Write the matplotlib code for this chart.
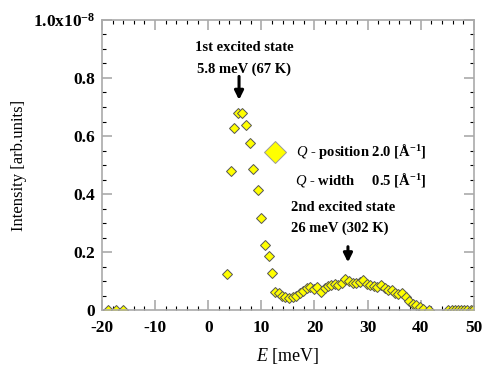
import matplotlib
matplotlib.use("Agg")
import matplotlib.pyplot as plt
from matplotlib.ticker import MultipleLocator

plt.rcParams['font.family'] = ['Liberation Serif', 'DejaVu Serif']
plt.rcParams['mathtext.fontset'] = 'custom'
plt.rcParams['mathtext.rm'] = 'Liberation Serif'
plt.rcParams['mathtext.it'] = 'Liberation Serif:italic'
plt.rcParams['mathtext.bf'] = 'Liberation Serif:bold'

# low energy points (sparse)
e_low = [-18.8, -17.4, -16.0]
i_low = [0.0, 0.0, 0.0]

# first excitation peak
e_peak = [3.45, 4.2, 4.9, 5.6, 6.4, 7.1, 7.85, 8.5, 9.3, 9.9, 10.7, 11.4, 12.05]
i_peak = [0.124, 0.479, 0.628, 0.678, 0.678, 0.639, 0.576, 0.486, 0.413,
          0.317, 0.224, 0.186, 0.128]

# broad second excitation
e_band = [12.6, 13.3, 13.9, 14.5, 15.2, 15.9, 16.5, 17.2, 17.9, 18.5, 19.2,
          19.9, 20.5, 21.2, 21.9, 22.5, 23.2, 23.9, 24.5, 25.2, 25.8, 26.5,
          27.2, 27.8, 28.5, 29.2, 29.8, 30.5, 31.2, 31.8, 32.5, 33.2, 33.8,
          34.5, 35.2, 35.8, 36.5, 37.2, 37.8, 38.5, 39.2, 39.8, 40.5, 41.5]
i_band = [0.063, 0.058, 0.050, 0.045, 0.040, 0.045, 0.050, 0.058, 0.065,
          0.075, 0.080, 0.072, 0.078, 0.063, 0.075, 0.082, 0.085, 0.090,
          0.085, 0.095, 0.108, 0.100, 0.092, 0.095, 0.098, 0.105, 0.090,
          0.085, 0.082, 0.080, 0.085, 0.075, 0.070, 0.068, 0.060, 0.055,
          0.058, 0.045, 0.030, 0.022, 0.018, 0.010, 0.005, 0.0]

# high energy tail
e_high = [45.2, 45.8, 46.4, 47.0, 47.6, 48.2, 48.8, 49.4, 49.9]
i_high = [0.0] * 9

fig = plt.figure(figsize=(4.87, 3.70), dpi=100)
ax = fig.add_axes([0.2094, 0.162, 0.7636, 0.784])

mk = dict(marker='D', markersize=5.5, markerfacecolor='#ffff00',
          markeredgecolor='#555555', markeredgewidth=0.7)
ax.plot(e_low, i_low, linestyle='none', **mk)
ax.plot(e_peak, i_peak, linestyle='none', **mk)
ax.plot(e_band, i_band, color='black', linewidth=0.8, **mk)
ax.plot(e_high, i_high, linestyle='none', **mk)

ax.set_xlim(-20, 50)
ax.set_ylim(0, 1.0)
ax.xaxis.set_major_locator(MultipleLocator(10))
ax.xaxis.set_minor_locator(MultipleLocator(2))
ax.yaxis.set_major_locator(MultipleLocator(0.2))
ax.yaxis.set_minor_locator(MultipleLocator(0.05))
ax.tick_params(which='both', direction='in', top=True, right=True)
ax.tick_params(which='major', length=7, width=1.2, color='#aaaaaa')
ax.tick_params(which='minor', length=3, width=0.8, color='black')
ax.tick_params(axis='x', which='major', pad=7)
ax.tick_params(axis='y', which='major', pad=5)
for sp in ax.spines.values():
    sp.set_color('#aaaaaa')
    sp.set_linewidth(1.2)

ax.set_xticks([-20, -10, 0, 10, 20, 30, 40, 50])
ax.set_xticklabels(['-20', '-10', '0', '10', '20', '30', '40', '50'],
                   fontsize=12.5, fontweight='bold')
ax.set_yticks([0, 0.2, 0.4, 0.6, 0.8, 1.0])
ax.set_yticklabels(['0', '0.2', '0.4', '0.6', '0.8', r'1.0x10$^{\mathbf{-8}}$'],
                   fontsize=12.5, fontweight='bold')

ax.set_xlabel(r'$E$ [meV]', fontsize=13, labelpad=7)
ax.set_ylabel('Intensity [arb.units]', fontsize=12, labelpad=4)

# first excited state
ax.text(6.8, 0.905, '1st excited state', ha='center', va='center',
        fontsize=10.5, fontweight='bold')
ax.text(6.8, 0.83, '5.8 meV (67 K)', ha='center', va='center',
        fontsize=10.5, fontweight='bold')
ax.annotate('', xy=(5.8, 0.715), xytext=(5.8, 0.815),
            arrowprops=dict(arrowstyle='-|>', color='black', lw=2.2,
                            mutation_scale=13))

# second excited state
ax.text(15.5, 0.355, '2nd excited state', ha='left', va='center',
        fontsize=10.5, fontweight='bold')
ax.text(15.5, 0.283, '26 meV (302 K)', ha='left', va='center',
        fontsize=10.5, fontweight='bold')
ax.annotate('', xy=(26.3, 0.155), xytext=(26.3, 0.228),
            arrowprops=dict(arrowstyle='-|>', color='black', lw=2.2,
                            mutation_scale=13))

# legend-like label
ax.plot([12.6], [0.545], marker='D', markersize=11, markerfacecolor='#ffff00',
        markeredgecolor='#999999', markeredgewidth=0.7, linestyle='none')
ax.text(16.5, 0.545, r'$\mathit{Q}$ - position 2.0 [Å$^{\mathbf{-1}}$]',
        ha='left', va='center', fontsize=10.5, fontweight='bold')
ax.text(16.3, 0.45, r'$\mathit{Q}$ - width     0.5 [Å$^{\mathbf{-1}}$]',
        ha='left', va='center', fontsize=10.5, fontweight='bold')

fig.savefig('out.png', dpi=100)
